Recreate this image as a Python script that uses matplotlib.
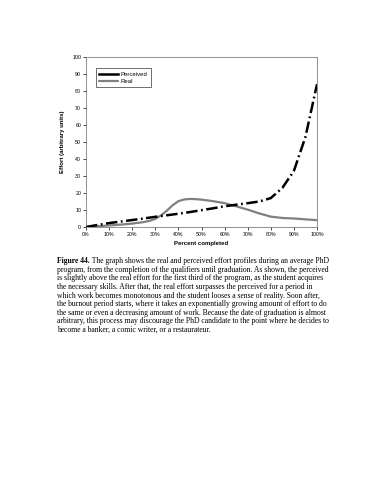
import numpy as np
import matplotlib.pyplot as plt

# data
pct = [0, 5, 10, 15, 20, 25, 30, 35, 40, 45, 50, 55, 60, 65, 70, 75, 80, 85, 90, 95, 100]
perceived = [0, 1.2, 2.3, 3.2, 4.1, 5.0, 6.0, 6.9, 7.8, 8.8, 9.9, 11.0, 12.2, 13.1, 14.0, 15.0, 17.0, 23.0, 33.0, 53.0, 84.0]
pct_real = [0, 5, 10, 15, 20, 25, 27.5, 30, 32.5, 35, 37.5, 40, 42.5, 45, 47.5, 50, 55, 60, 65, 70, 75, 80, 85, 90, 95, 100]
real = [0, 0.4, 0.9, 1.4, 2.0, 2.9, 3.6, 4.8, 6.8, 9.6, 12.8, 15.2, 16.2, 16.5, 16.4, 16.1, 15.2, 14.0, 12.2, 10.2, 8.0, 6.1, 5.3, 5.0, 4.5, 4.0]

yticks = list(range(0, 101, 10))
xticks = list(range(0, 101, 10))

caption = [
    "program, from the completion of the qualifiers until graduation. As shown, the perceived",
    "is slightly above the real effort for the first third of the program, as the student acquires",
    "the necessary skills. After that, the real effort surpasses the perceived for a period in",
    "which work becomes monotonous and the student looses a sense of reality. Soon after,",
    "the burnout period starts, where it takes an exponentially growing amount of effort to do",
    "the same or even a decreasing amount of work. Because the date of graduation is almost",
    "arbitrary, this process may discourage the PhD candidate to the point where he decides to",
    "become a banker, a comic writer, or a restaurateur.",
]

plt.rcParams['font.family'] = ['Liberation Sans', 'DejaVu Sans']

W, H = 386, 500
fig = plt.figure(figsize=(W / 100, H / 100), dpi=100)
fig.patch.set_facecolor('white')

ax = fig.add_axes([86 / W, 1 - 227 / H, 231 / W, 170 / H])

ax.plot(np.array(pct_real) / 100.0, real, color='#808080', lw=1.6,
        solid_capstyle='round', solid_joinstyle='round', label='Real', zorder=2)
ax.plot(np.array(pct) / 100.0, perceived, color='black', lw=1.8,
        dashes=(4.6, 1.4, 0.7, 1.4), label='Perceived', zorder=3)

ax.set_xlim(0, 1)
ax.set_ylim(0, 100)
ax.set_xticks(np.array(xticks) / 100.0)
ax.set_xticklabels([f"{t}%" for t in xticks])
ax.set_yticks(yticks)
ax.tick_params(labelsize=3.8, length=2, width=0.5, pad=1.5, colors='black')
for s in ax.spines.values():
    s.set_color('#7f7f7f')
    s.set_linewidth(0.6)

ax.set_xlabel('Percent completed', fontsize=4.3, fontweight='bold', labelpad=3)
ax.set_ylabel('Effort (arbitrary units)', fontsize=4.3, fontweight='bold', labelpad=5)

h, l = ax.get_legend_handles_labels()
leg = ax.legend(h[::-1], l[::-1], loc='upper left', bbox_to_anchor=(0.03, 0.95),
                fontsize=4.3, frameon=True, fancybox=False, handlelength=3.2,
                borderpad=0.5, labelspacing=0.4, handletextpad=0.5)
leg.get_frame().set_edgecolor('black')
leg.get_frame().set_linewidth(0.5)
leg.get_lines()[0].set_dashes((None, None))
leg.get_lines()[0].set_linestyle('-')

# caption
fs = 5.5
y0 = 1 - 261 / H
dy = 8.63 / H
t0 = fig.text(57 / W, y0, "Figure 44.", fontsize=fs, fontweight='bold',
              family='Liberation Serif', va='center')
ax.annotate(" The graph shows the real and perceived effort profiles during an average PhD",
            xy=(1, 0.5), xycoords=t0, va='center', ha='left', fontsize=fs,
            family='Liberation Serif', annotation_clip=False)
for i, line in enumerate(caption):
    fig.text(57 / W, y0 - (i + 1) * dy, line, fontsize=fs, family='Liberation Serif', va='center')

fig.savefig('out.png', dpi=100, facecolor='white')
